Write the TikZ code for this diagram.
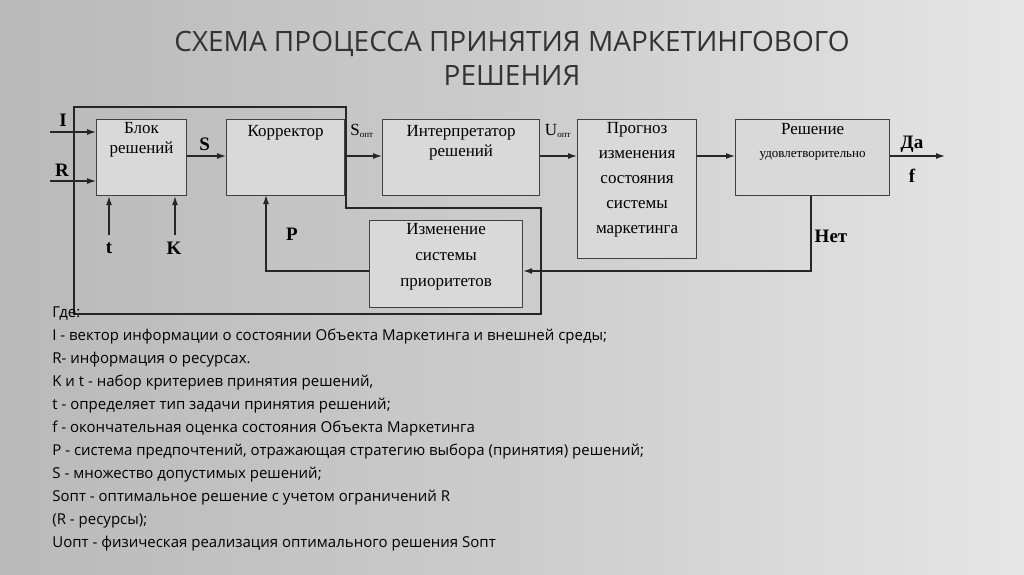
\documentclass[tikz,border=0pt]{standalone}
\usepackage{fontspec}
\setmainfont{Liberation Serif}
\newfontfamily\legendfont{Open Sans}
\usetikzlibrary{arrows.meta}

\begin{document}
\begin{tikzpicture}[x=1pt, y=-1pt, thick,
    blok/.style = {draw=black!75, fill=gray!30, line width=1.2pt, align=center, anchor=north west, inner sep=0pt, font=\fontsize{17}{20}\selectfont},
    txt/.style = {blok, draw=none, fill=none, anchor=north},
    link/.style = {draw=black!85, line width=1.2pt},
    arr/.style = {link, -{Latex[length=9pt,width=6pt]}},
    lbl/.style = {font=\fontsize{19}{20}\selectfont\bfseries}]
    \fill[left color=gray!55, right color=gray!20, middle color=gray!40] (0,0) rectangle (1024,574);
    \useasboundingbox (0,0) rectangle (1024,574);
    % title
    \node[font=\legendfont\fontsize{28}{34}\selectfont, text=black!80, align=center] (title) at (512,58) {СХЕМА ПРОЦЕССА ПРИНЯТИЯ МАРКЕТИНГОВОГО\\РЕШЕНИЯ};
    % feedback frame
    \draw[link] (74,107) -- (346,107) -- (346,208) -- (541,208) -- (541,314) -- (74,314) -- cycle;
    % blocks
    \node[blok, minimum width=90, minimum height=76] (blok) at (96,119) {};
    \node[txt] at (blok.north) [yshift=-3pt] {Блок\\решений};
    \node[blok, minimum width=118, minimum height=76] (korr) at (226,119) {};
    \node[txt] at (korr.north) [yshift=-6pt] {Корректор};
    \node[blok, minimum width=157, minimum height=76] (interp) at (382,119) {};
    \node[txt] at (interp.north) [yshift=-6pt] {Интерпретатор\\решений};
    \node[blok, minimum width=119, minimum height=139] (progn) at (577,119) {};
    \node[txt, font=\fontsize{17}{25}\selectfont] at (progn.north) [yshift=-3pt] {Прогноз\\изменения\\состояния\\системы\\маркетинга};
    \node[blok, minimum width=154, minimum height=76] (resh) at (735,119) {};
    \node[txt, font=\fontsize{17}{23}\selectfont] at (resh.north) [yshift=-4pt] {Решение\\{\fontsize{13}{14}\selectfont удовлетворительно}};
    \node[blok, minimum width=153, minimum height=87] (izm) at (369,220) {};
    \node[txt, font=\fontsize{17}{26}\selectfont] at (izm.north) [yshift=-3pt] {Изменение\\системы\\приоритетов};
    % inputs
    \coordinate (iin) at (50,132);
    \coordinate (rin) at (50,181);
    \coordinate (tin) at (109,235);
    \coordinate (kin) at (175,235);
    \coordinate (out) at (945,156);
    \draw[arr] (iin) -- (blok.west |- iin);
    \draw[arr] (rin) -- (blok.west |- rin);
    \draw[arr] (tin) -- (tin |- blok.south);
    \draw[arr] (kin) -- (kin |- blok.south);
    \node[lbl] (ilbl) at (63,120) {I};
    \node[lbl] (rlbl) at (62,170) {R};
    \node[lbl] (tlbl) at (109,248) {t};
    \node[lbl] (klbl) at (174,248) {K};
    % main chain
    \draw[arr] (blok.east |- 0,156) -- (korr.west |- 0,156) node[lbl, pos=0.45, above=1pt] {S};
    \draw[arr] (korr.east |- 0,156) -- (interp.west |- 0,156);
    \node[font=\fontsize{17}{18}\selectfont] (sopt) at (362,131) {S\textsubscript{\fontsize{9}{9}\selectfont опт}};
    \draw[arr] (interp.east |- 0,156) -- (progn.west |- 0,156);
    \node[font=\fontsize{17}{18}\selectfont] (uopt) at (558,131) {U\textsubscript{\fontsize{9}{9}\selectfont опт}};
    \draw[arr] (progn.east |- 0,156) -- (resh.west |- 0,156);
    \draw[arr] (resh.east |- 0,156) -- (out);
    \node[lbl] (da) at (912,144) {Да};
    \node[lbl] (f) at (912,176) {f};
    % feedback
    \draw[arr] (resh.south -| 811,0) -- (811,271) -- (izm.east |- 0,271);
    \node[lbl] (net) at (831,236) {Нет};
    \draw[arr] (izm.west |- 0,271) -- (266,271) -- (266,195);
    \node[lbl] (plbl) at (292,234) {P};
    % legend
    \node[anchor=north west, align=left, font=\legendfont\fontsize{15}{23}\selectfont, inner sep=0pt] (legend) at (52,306) {Где:\\
    I - вектор информации о состоянии Объекта Маркетинга и внешней среды;\\
    R- информация о ресурсах.\\
    K и t - набор критериев принятия решений,\\
    t - определяет тип задачи принятия решений;\\
    f - окончательная оценка состояния Объекта Маркетинга\\
    P - система предпочтений, отражающая стратегию выбора (принятия) решений;\\
    S - множество допустимых решений;\\
    Sопт - оптимальное решение с учетом ограничений R\\
    (R - ресурсы);\\
    Uопт - физическая реализация оптимального решения Sопт};
\end{tikzpicture}
\end{document}
